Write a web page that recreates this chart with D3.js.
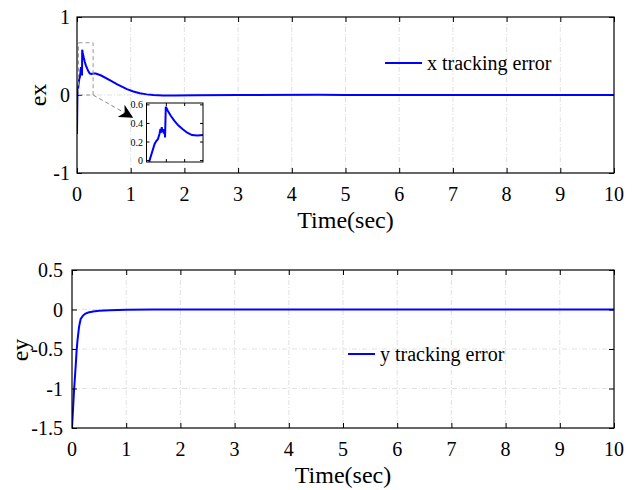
<!DOCTYPE html>
<html>
<head>
<meta charset="utf-8">
<script src="https://cdn.jsdelivr.net/npm/d3@7"></script>
<style>
  body { margin: 0; background: #fff; }
  svg { display: block; }
</style>
</head>
<body>
<svg id="chart" width="632" height="490"></svg>
<script>
// x tracking error (time in sec, value)
var tx = [0, 0.008, 0.036, 0.045, 0.054, 0.063, 0.068, 0.072, 0.075, 0.079, 0.083, 0.086, 0.09, 0.093,
  0.097, 0.107, 0.125, 0.143, 0.165, 0.188, 0.214, 0.24, 0.27, 0.3, 0.35, 0.45, 0.61, 0.75, 0.93, 1.05,
  1.17, 1.3, 1.42, 1.6, 1.8, 2.2, 3, 4.5, 5, 10];
var ex = [-0.5, 0, 0.18, 0.21, 0.23, 0.29, 0.34, 0.3, 0.36, 0.31, 0.34, 0.29, 0.33, 0.25,
  0.58, 0.54, 0.48, 0.43, 0.38, 0.34, 0.3, 0.275, 0.27, 0.275, 0.275, 0.25, 0.19, 0.135, 0.075, 0.045,
  0.022, 0.008, 0, -0.006, -0.006, -0.003, 0, 0.002, 0, 0];

// y tracking error
var ty = [0, 0.02, 0.037, 0.05, 0.074, 0.085, 0.1, 0.13, 0.16, 0.2, 0.24, 0.3, 0.39, 0.5, 0.7, 1, 1.5, 2, 10];
var ey = [-1.5, -1.25, -1.03, -0.9, -0.65, -0.52, -0.4, -0.22, -0.12, -0.08, -0.055, -0.038, -0.025,
  -0.017, -0.01, -0.004, -0.001, 0, 0];

var xTicks = [0, 1, 2, 3, 4, 5, 6, 7, 8, 9, 10];
var exTicks = [-1, 0, 1];
var eyTicks = [-1.5, -1, -0.5, 0, 0.5];
var insetYTicks = [0, 0.2, 0.4, 0.6];
var insetXTicks = [0.1, 0.2];

var serif = 'Liberation Serif';
var svg = d3.select('#chart');
var blue = '#0000ff';
var gridColor = '#d9d9d9';

function label(parent, x, y, txt, size, anchor) {
  return parent.append('text').attr('x', x).attr('y', y).attr('text-anchor', anchor || 'start')
    .attr('font-family', serif).attr('font-size', size).attr('fill', '#000').text(txt);
}

function panel(o) {
  var x = d3.scaleLinear().domain([0, 10]).range([o.left, o.right]);
  var y = d3.scaleLinear().domain(o.ydom).range([o.bottom, o.top]);
  var g = svg.append('g');

  // grid
  xTicks.slice(1, -1).forEach(function(t) {
    g.append('line').attr('x1', x(t)).attr('x2', x(t)).attr('y1', o.top).attr('y2', o.bottom)
      .attr('stroke', gridColor).attr('stroke-width', 0.8).attr('stroke-dasharray', '5,2,1,2');
  });
  o.yticks.slice(1, -1).forEach(function(t) {
    g.append('line').attr('x1', o.left).attr('x2', o.right).attr('y1', y(t)).attr('y2', y(t))
      .attr('stroke', gridColor).attr('stroke-width', 0.8).attr('stroke-dasharray', '5,2,1,2');
  });

  // data line
  var clipId = 'clip' + o.name;
  svg.append('clipPath').attr('id', clipId).append('rect')
    .attr('x', o.left).attr('y', o.top - 2).attr('width', o.right - o.left).attr('height', o.bottom - o.top + 4);
  var line = d3.line().x(function(d) { return x(d[0]); }).y(function(d) { return y(d[1]); });
  g.append('path').datum(d3.zip(o.t, o.v)).attr('d', line).attr('clip-path', 'url(#' + clipId + ')')
    .attr('fill', 'none').attr('stroke', blue).attr('stroke-width', 2);

  // axes: inward ticks on all four sides, labels drawn by hand in serif
  g.append('g').attr('transform', 'translate(0,' + o.bottom + ')')
    .call(d3.axisBottom(x).tickValues(xTicks).tickSize(-5).tickSizeOuter(0).tickFormat(''));
  g.append('g').attr('transform', 'translate(0,' + o.top + ')')
    .call(d3.axisTop(x).tickValues(xTicks).tickSize(-5).tickSizeOuter(0).tickFormat(''));
  g.append('g').attr('transform', 'translate(' + o.left + ',0)')
    .call(d3.axisLeft(y).tickValues(o.yticks).tickSize(-5).tickSizeOuter(0).tickFormat(''));
  g.append('g').attr('transform', 'translate(' + o.right + ',0)')
    .call(d3.axisRight(y).tickValues(o.yticks).tickSize(-5).tickSizeOuter(0).tickFormat(''));
  g.selectAll('.domain').remove();
  g.selectAll('.tick text').remove();
  g.selectAll('.tick line').attr('stroke', '#000');
  g.append('rect').attr('x', o.left).attr('y', o.top).attr('width', o.right - o.left).attr('height', o.bottom - o.top)
    .attr('fill', 'none').attr('stroke', '#000').attr('stroke-width', 1.2);

  xTicks.forEach(function(t) { label(g, x(t), o.bottom + 28, String(t), 20, 'middle'); });
  o.yticks.forEach(function(t) { label(g, o.ylabX, y(t) + 7, String(t), 20, 'end'); });

  // axis titles
  label(g, (o.left + o.right) / 2, o.bottom + 55, 'Time(sec)', 24, 'middle');
  label(g, 0, 0, o.name, 24, 'middle').attr('dy', '0.33em')
    .attr('transform', 'translate(' + o.nameX + ',' + o.nameY + ') rotate(-90)');

  // legend
  g.append('line').attr('x1', o.legX).attr('x2', o.legX + o.legW).attr('y1', o.legY).attr('y2', o.legY)
    .attr('stroke', blue).attr('stroke-width', 2);
  label(g, o.legX + o.legW + 5, o.legY + 7, o.legend, 20);

  return {x: x, y: y, g: g};
}

var pTop = panel({name: 'ex', left: 77, right: 614, top: 17, bottom: 173, ydom: [-1, 1], yticks: exTicks,
  t: tx, v: ex, ylabX: 70, nameX: 38, nameY: 95, legX: 385, legY: 63, legW: 37, legend: 'x tracking error'});
var pBot = panel({name: 'ey', left: 72, right: 614, top: 270, bottom: 428, ydom: [-1.5, 0.5], yticks: eyTicks,
  t: ty, v: ey, ylabX: 63, nameX: 20, nameY: 350, legX: 348, legY: 354, legW: 27, legend: 'y tracking error'});

// zoom box and arrow in the top panel
var zx0 = 0, zx1 = 0.3, zy0 = 0, zy1 = 0.67;
svg.append('rect').attr('x', pTop.x(zx0) + 1.5).attr('y', pTop.y(zy1)).attr('width', pTop.x(zx1) - pTop.x(zx0) - 1.5)
  .attr('height', pTop.y(zy0) - pTop.y(zy1)).attr('fill', 'none').attr('stroke', '#999').attr('stroke-dasharray', '4,3');
svg.append('defs').append('marker').attr('id', 'arrow').attr('viewBox', '0 0 10 10').attr('refX', 9).attr('refY', 5)
  .attr('markerWidth', 14).attr('markerHeight', 14).attr('markerUnits', 'userSpaceOnUse').attr('orient', 'auto')
  .append('path').attr('d', 'M0,0 L10,5 L0,10 L3,5 Z').attr('fill', '#000');
svg.append('line').attr('x1', pTop.x(zx1)).attr('y1', pTop.y(zy0)).attr('x2', 132).attr('y2', 117)
  .attr('stroke', '#888').attr('stroke-dasharray', '4,3').attr('marker-end', 'url(#arrow)');

// inset
var ix = d3.scaleLinear().domain([0, 0.3]).range([148, 203]);
var iy = d3.scaleLinear().domain([-0.015, 0.62]).range([162, 103]);
var ins = svg.append('g');
ins.append('rect').attr('x', 146.5).attr('y', 103).attr('width', 56.5).attr('height', 59).attr('fill', '#fff');
svg.append('clipPath').attr('id', 'clipInset').append('rect').attr('x', 146.5).attr('y', 103).attr('width', 56.5).attr('height', 59);
ins.append('path').datum(d3.zip(tx, ex)).attr('clip-path', 'url(#clipInset)')
  .attr('d', d3.line().x(function(d) { return ix(d[0]); }).y(function(d) { return iy(d[1]); }))
  .attr('fill', 'none').attr('stroke', blue).attr('stroke-width', 2);
ins.append('rect').attr('x', 146.5).attr('y', 103).attr('width', 56.5).attr('height', 59)
  .attr('fill', 'none').attr('stroke', '#000').attr('stroke-width', 1);
insetYTicks.forEach(function(t) {
  ins.append('line').attr('x1', 146.5).attr('x2', 149.5).attr('y1', iy(t)).attr('y2', iy(t)).attr('stroke', '#000');
  ins.append('line').attr('x1', 203).attr('x2', 200).attr('y1', iy(t)).attr('y2', iy(t)).attr('stroke', '#000');
  label(ins, 143, iy(t) + 3.5, t === 0 ? '0' : t.toFixed(1), 10, 'end');
});
insetXTicks.forEach(function(t) {
  ins.append('line').attr('x1', ix(t)).attr('x2', ix(t)).attr('y1', 103).attr('y2', 106).attr('stroke', '#000');
  ins.append('line').attr('x1', ix(t)).attr('x2', ix(t)).attr('y1', 162).attr('y2', 159).attr('stroke', '#000');
});
</script>
</body>
</html>
